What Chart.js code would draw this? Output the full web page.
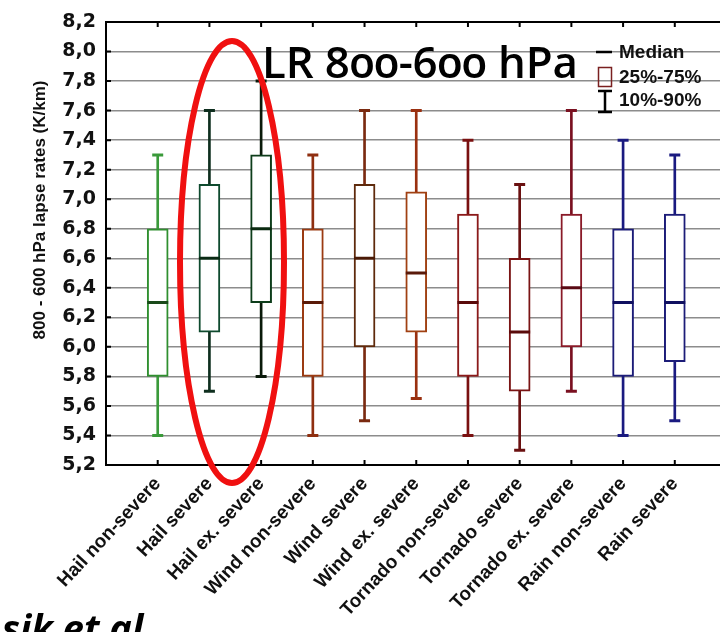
<!DOCTYPE html>
<html>
<head>
<meta charset="utf-8">
<script src="https://cdn.jsdelivr.net/npm/chart.js@4/dist/chart.umd.min.js"></script>
<style>
  html, body { margin: 0; padding: 0; background: #fff; }
  #wrap { position: relative; width: 720px; height: 632px; overflow: hidden; }
  #lr { position: absolute; left: 262px; top: 39px; font: 600 44px "Open Sans"; line-height: 1;
        font-variant-numeric: oldstyle-nums; font-feature-settings: "onum" 1; color: #000;
        white-space: nowrap; transform-origin: left top; }
</style>
</head>
<body>
<div id="wrap">
  <canvas id="box_canvas" width="740" height="632"></canvas>
  <div id="lr">LR 800-600 hPa</div>
</div>
<script>
// values (K/km)
const categories = ['Hail non-severe', 'Hail severe', 'Hail ex. severe', 'Wind non-severe', 'Wind severe',
    'Wind ex. severe', 'Tornado non-severe', 'Tornado severe', 'Tornado ex. severe', 'Rain non-severe', 'Rain severe'];
const p10    = [5.4, 5.7, 5.8, 5.4, 5.5, 5.65, 5.4, 5.3, 5.7, 5.4, 5.5];
const q25    = [5.8, 6.1, 6.3, 5.8, 6.0, 6.1, 5.8, 5.7, 6.0, 5.8, 5.9];
const median = [6.3, 6.6, 6.8, 6.3, 6.6, 6.5, 6.3, 6.1, 6.4, 6.3, 6.3];
const q75    = [6.8, 7.1, 7.3, 6.8, 7.1, 7.05, 6.9, 6.6, 6.9, 6.8, 6.9];
const p90    = [7.3, 7.6, 7.8, 7.3, 7.6, 7.6, 7.4, 7.1, 7.6, 7.4, 7.3];
const yTicks = [5.2, 5.4, 5.6, 5.8, 6.0, 6.2, 6.4, 6.6, 6.8, 7.0, 7.2, 7.4, 7.6, 7.8, 8.0, 8.2];

const boxColors     = ['#2f8f2f', '#0e4a2e', '#0d3d1a', '#9b3b12', '#5e2a0c', '#a04012', '#8b1a1a', '#7a1414', '#8a1a28', '#1c1c78', '#1c1c78'];
const whiskerColors = ['#3a9a3a', '#0e2e1e', '#0a1a0a', '#8f2f10', '#7a2a10', '#9a3010', '#7a1010', '#6a1010', '#7a1020', '#1a1a80', '#1a1a80'];
const medianColors  = ['#1a4a1a', '#0a2a14', '#0a2a10', '#5a1a08', '#4a1a06', '#5a1a0a', '#5a0a0a', '#5a0a0a', '#5a0a14', '#101060', '#101060'];

// one empty slot on each side of the categories
const labels = ['', ...categories, ''];
const pad = a => [null, ...a, null];
const range = (lo, hi) => pad(lo.map((v, i) => [v, hi[i]]));

const extras = {
    id: 'extras',
    afterDraw(chart) {
        const ctx = chart.ctx, ca = chart.chartArea;
        const xs = chart.scales.x, ys = chart.scales.y;
        ctx.save();
        // top frame and inner tick marks
        ctx.strokeStyle = '#000';
        ctx.lineWidth = 2;
        ctx.beginPath();
        ctx.moveTo(ca.left - 1, ca.top); ctx.lineTo(ca.right, ca.top);
        for (let i = 1; i <= categories.length; i++) {
            const x = xs.getPixelForValue(i);
            ctx.moveTo(x, ca.bottom); ctx.lineTo(x, ca.bottom - 5);
            ctx.moveTo(x, ca.top); ctx.lineTo(x, ca.top + 5);
        }
        yTicks.forEach(v => {
            const y = ys.getPixelForValue(v);
            ctx.moveTo(ca.left, y); ctx.lineTo(ca.left + 5, y);
        });
        ctx.stroke();

        // y title
        ctx.save();
        ctx.translate(40, 210);
        ctx.rotate(-Math.PI / 2);
        ctx.font = 'bold 17px "Liberation Sans"';
        ctx.fillStyle = '#111';
        ctx.textAlign = 'center';
        ctx.textBaseline = 'middle';
        ctx.fillText('800 - 600 hPa lapse rates (K/km)', 0, 0);
        ctx.restore();

        // legend
        ctx.lineWidth = 2.5;
        ctx.strokeStyle = '#000';
        ctx.beginPath();
        ctx.moveTo(596, 52); ctx.lineTo(612, 52);
        ctx.moveTo(605, 91); ctx.lineTo(605, 112);
        ctx.moveTo(598, 91); ctx.lineTo(612, 91);
        ctx.moveTo(598, 112); ctx.lineTo(612, 112);
        ctx.stroke();
        ctx.lineWidth = 1.5;
        ctx.strokeStyle = '#7a2020';
        ctx.strokeRect(598.5, 67.5, 13, 19);
        ctx.font = 'bold 19px "Liberation Sans"';
        ctx.fillStyle = '#111';
        ctx.textAlign = 'left';
        ctx.textBaseline = 'middle';
        ctx.fillText('Median', 619, 53);
        ctx.fillText('25%-75%', 619, 78);
        ctx.fillText('10%-90%', 619, 101);

        // red ellipse
        ctx.strokeStyle = '#f01010';
        ctx.lineWidth = 6;
        ctx.beginPath();
        ctx.ellipse(232, 262, 52, 221, 0, 0, Math.PI * 2);
        ctx.stroke();

        // citation, cut at the bottom edge
        ctx.font = 'italic bold 38px "Open Sans"';
        ctx.fillStyle = '#000';
        ctx.textBaseline = 'alphabetic';
        ctx.fillText('sik et al.', 2, 642);
        ctx.restore();
    }
};

const ctx_box = document.getElementById('box_canvas').getContext('2d');
const box_chart = new Chart(ctx_box, {
    type: 'bar',
    data: {
        labels: labels,
        datasets: [{
            label: 'whisker',
            data: range(p10, p90),
            backgroundColor: pad(whiskerColors),
            barThickness: 2,
            grouped: false,
            order: 5,
        }, {
            label: 'box',
            data: range(q25, q75),
            backgroundColor: '#fff',
            borderColor: pad(boxColors),
            borderWidth: 2,
            borderSkipped: false,
            barThickness: 21,
            grouped: false,
            order: 4,
        }, {
            type: 'line',
            label: 'median',
            data: pad(median),
            showLine: false,
            pointStyle: 'line',
            pointRadius: 10.5,
            pointBorderWidth: 3,
            pointBorderColor: pad(medianColors),
            order: 3,
        }, {
            type: 'line',
            label: 'p10',
            data: pad(p10),
            showLine: false,
            pointStyle: 'line',
            pointRadius: 5.5,
            pointBorderWidth: 3,
            pointBorderColor: pad(whiskerColors),
            order: 2,
        }, {
            type: 'line',
            label: 'p90',
            data: pad(p90),
            showLine: false,
            pointStyle: 'line',
            pointRadius: 5.5,
            pointBorderWidth: 3,
            pointBorderColor: pad(whiskerColors),
            order: 1,
        }]
    },
    options: {
        responsive: false,
        animation: false,
        events: [],
        layout: { padding: { top: 22, right: 10, left: 0, bottom: 0 } },
        plugins: { legend: { display: false }, tooltip: { enabled: false } },
        scales: {
            x: {
                offset: false,
                afterFit: s => { s.height = 167; s.paddingLeft = 0; s.paddingRight = 0; },
                grid: { display: false, drawTicks: false },
                border: { display: true, color: '#000', width: 2 },
                ticks: {
                    autoSkip: false, minRotation: 47, maxRotation: 47, padding: 8,
                    color: '#111', font: { family: 'Liberation Sans', size: 19, weight: 'bold' }
                }
            },
            y: {
                min: 5.2,
                max: 8.2,
                afterFit: s => { s.width = 106; },
                afterBuildTicks: s => { s.ticks = yTicks.map(v => ({ value: v })); },
                grid: { color: '#8c8c8c', lineWidth: 1.5, drawTicks: false },
                border: { display: true, color: '#000', width: 2 },
                ticks: {
                    padding: 10,
                    color: '#111',
                    font: { family: 'DejaVu Sans', size: 19, weight: 'bold' },
                    callback: v => Number(v).toFixed(1).replace('.', ',')
                }
            }
        }
    },
    plugins: [extras]
});

// squeeze the big title to its width in the picture
const lr = document.getElementById('lr');
lr.style.transform = 'scaleX(' + (316 / lr.getBoundingClientRect().width) + ')';
</script>
</body>
</html>
